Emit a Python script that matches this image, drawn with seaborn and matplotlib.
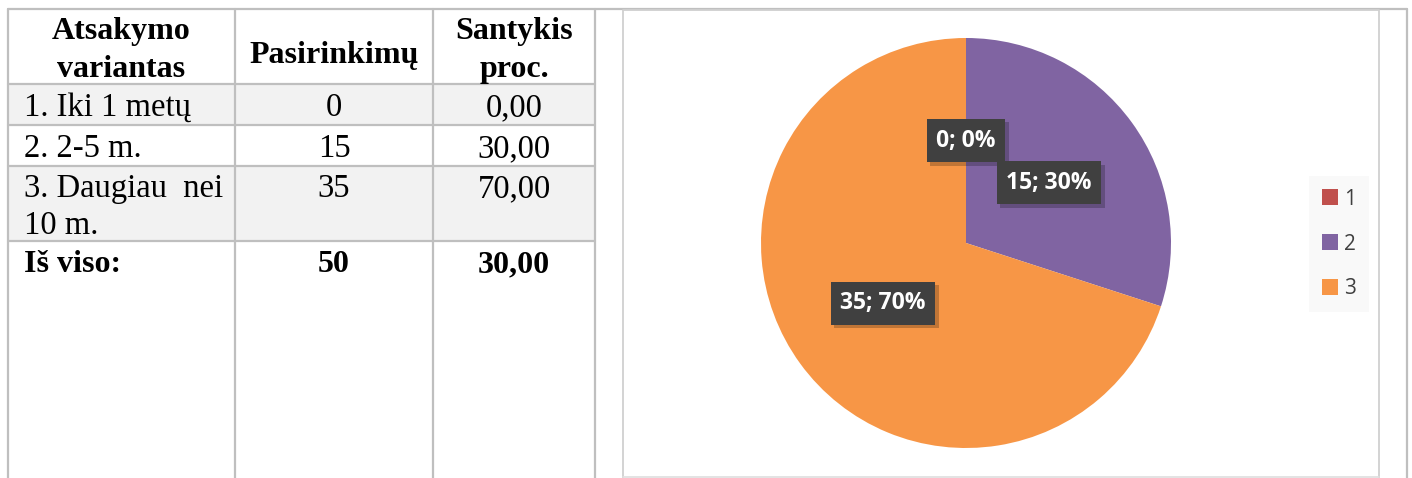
import numpy as np
import matplotlib
matplotlib.use("Agg")
import matplotlib.pyplot as plt
import matplotlib.patheffects as pe
import seaborn as sns

# table data
header = [["Atsakymo", "variantas"], ["Pasirinkimų"], ["Santykis", "proc."]]
variants = [["1. Iki 1 metų"], ["2. 2-5 m."], ["3. Daugiau  nei", "10 m."]]
counts = [0, 15, 35]
percents = ["0,00", "30,00", "70,00"]
total_label = "Iš viso:"
total_count = "50"
total_percent = "30,00"

# pie data
legend_labels = ["1", "2", "3"]
pie_colors = ["#C0504D", "#8064A2", "#F79646"]

sns.set_theme(style="white")
plt.rcParams["font.family"] = ["Liberation Serif", "DejaVu Sans"]
plt.rcParams["text.color"] = "black"

W, H = 1412, 478
fig = plt.figure(figsize=(W / 100, H / 100), dpi=100)
fig.patch.set_facecolor("white")

# background axes in pixel coordinates for the table
bg = fig.add_axes([0, 0, 1, 1])
bg.set_xlim(0, W)
bg.set_ylim(H, 0)
bg.axis("off")

line_c = "#BFBFBF"
lw = 1.6
col_x = [8, 235, 433, 595]
row_y = [9, 84, 125, 166, 241]

# shaded rows
for i, (y0, y1) in enumerate(zip(row_y[1:-1], row_y[2:])):
    if i % 2 == 0:
        bg.fill_between([col_x[0], col_x[-1]], y0, y1, color="#F2F2F2", lw=0, zorder=0)

bg.plot([8, 1407], [9, 9], color=line_c, lw=lw)
for x in col_x:
    bg.plot([x, x], [9, H], color=line_c, lw=lw)
bg.plot([1407, 1407], [9, H], color=line_c, lw=lw)
for y in row_y[1:]:
    bg.plot([col_x[0], col_x[-1]], [y, y], color=line_c, lw=lw)

# chart frame
bg.plot([623, 623, 1378.5, 1378.5], [H, 10, 10, H], color="#D0D0D0", lw=1.3)
bg.plot([623, 1378.5], [476.5, 476.5], color="#E0E0E0", lw=1.3)

centers = [(col_x[i] + col_x[i + 1]) / 2 for i in range(3)]
fs = 23.5
fsb = 23

# header lines
header_base = {2: [39, 77], 1: [63]}
for c, lines in enumerate(header):
    for ln, yb in zip(lines, header_base[len(lines)]):
        bg.text(centers[c], yb, ln, ha="center", va="baseline", fontsize=fsb,
                fontweight="bold")

row_base = [116, 157, 197]
for i in range(3):
    for k, ln in enumerate(variants[i]):
        bg.text(24, row_base[i] + 36.5 * k, ln, ha="left", va="baseline", fontsize=fs)
    bg.text(centers[1], row_base[i], str(counts[i]), ha="center", va="baseline", fontsize=fs)
    bg.text(centers[2], row_base[i], percents[i], ha="center", va="baseline", fontsize=fs)

ytot = 272
bg.text(24, ytot, total_label, ha="left", va="baseline", fontsize=fsb, fontweight="bold")
bg.text(centers[1], ytot, total_count, ha="center", va="baseline", fontsize=fsb, fontweight="bold")
bg.text(centers[2], ytot, total_percent, ha="center", va="baseline", fontsize=fsb, fontweight="bold")

# pie chart
cx, cy, r = 966, 243, 205
ax = fig.add_axes([(cx - r) / W, (H - cy - r) / H, 2 * r / W, 2 * r / H])
total = sum(counts)


def lab(pct):
    return f"{int(round(pct * total / 100))}; {pct:.0f}%"


wedges, texts, autotexts = ax.pie(counts, colors=pie_colors, startangle=90,
                                  counterclock=False, autopct=lab,
                                  pctdistance=0.5, radius=1,
                                  wedgeprops=dict(linewidth=0))
ax.set_xlim(-1, 1)
ax.set_ylim(-1, 1)
ax.set_aspect("equal")
for t in autotexts:
    t.set_color("white")
    t.set_fontfamily(["Open Sans", "DejaVu Sans"])
    t.set_fontweight("bold")
    t.set_fontsize(16.5)
    t.set_va("center")
    t.set_bbox(dict(boxstyle="square,pad=0.42", fc="#404040", ec="none"))
    t.get_bbox_patch().set_path_effects(
        [pe.withSimplePatchShadow(offset=(2.5, -2.5), shadow_rgbFace="#000000", alpha=0.22)])

leg = fig.legend(wedges, legend_labels, loc="center left",
                 bbox_to_anchor=(1309 / W, 1 - 244 / H),
                 prop={"family": ["Open Sans", "DejaVu Sans"], "size": 15},
                 handlelength=0.8, handleheight=0.8, handletextpad=0.3,
                 labelspacing=1.15, borderpad=0.6, borderaxespad=0,
                 frameon=True, fancybox=False)
leg.get_frame().set_facecolor("#F8F8F8")
leg.get_frame().set_edgecolor("none")
for t in leg.get_texts():
    t.set_color("#404040")

fig.savefig("out.png", dpi=100)
